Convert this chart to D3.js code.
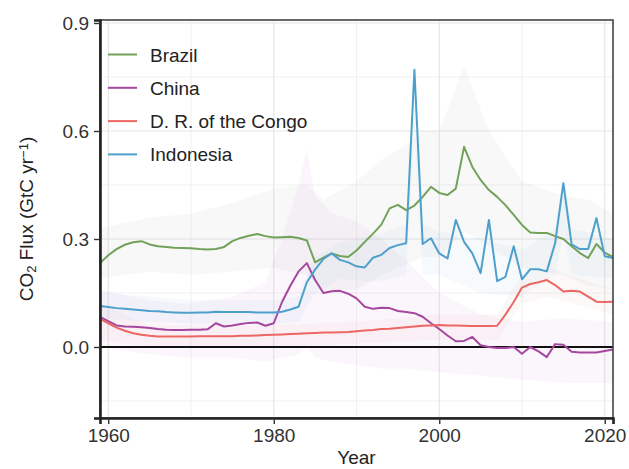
<!DOCTYPE html>
<html>
<head>
<meta charset="utf-8">
<script src="https://cdn.jsdelivr.net/npm/d3@7"></script>
<style>
  body { margin: 0; background: #fff; }
  svg text { font-family: "Liberation Sans", Arial, sans-serif; }
</style>
</head>
<body>
<svg id="chart" width="629" height="469"></svg>
<script>
const years = d3.range(1959, 2022);

const brazil = [0.233,0.255,0.272,0.284,0.291,0.294,0.285,0.280,0.278,0.276,
0.275,0.274,0.272,0.271,0.272,0.278,0.294,0.303,0.309,0.314,
0.308,0.304,0.305,0.306,0.303,0.296,0.235,0.248,0.260,0.253,
0.250,0.268,0.292,0.315,0.340,0.385,0.395,0.380,0.393,0.417,
0.445,0.428,0.422,0.440,0.556,0.500,0.464,0.436,0.417,0.394,
0.367,0.339,0.318,0.317,0.317,0.308,0.300,0.280,0.261,0.247,
0.286,0.262,0.250];

const china = [0.084,0.072,0.060,0.057,0.056,0.055,0.053,0.050,0.048,0.047,
0.047,0.048,0.048,0.049,0.066,0.057,0.060,0.064,0.067,0.068,
0.059,0.066,0.125,0.170,0.210,0.233,0.186,0.150,0.155,0.156,
0.148,0.135,0.112,0.106,0.109,0.108,0.100,0.097,0.094,0.084,
0.066,0.050,0.032,0.016,0.017,0.028,0.005,0.000,-0.003,-0.003,
0.000,-0.019,0.000,-0.012,-0.028,0.008,0.006,-0.013,-0.015,-0.015,
-0.015,-0.011,-0.007];

const congo = [0.078,0.066,0.054,0.045,0.038,0.034,0.031,0.029,0.029,0.029,
0.029,0.029,0.030,0.030,0.030,0.030,0.030,0.031,0.031,0.032,
0.033,0.034,0.035,0.036,0.037,0.038,0.039,0.040,0.040,0.041,
0.042,0.044,0.046,0.047,0.050,0.051,0.053,0.055,0.057,0.059,
0.060,0.061,0.060,0.060,0.059,0.058,0.058,0.058,0.059,0.090,
0.125,0.165,0.175,0.180,0.186,0.172,0.154,0.156,0.154,0.140,
0.126,0.125,0.126];

const indonesia = [0.114,0.111,0.108,0.106,0.104,0.102,0.100,0.099,0.097,0.096,
0.095,0.095,0.096,0.096,0.098,0.097,0.097,0.097,0.097,0.096,
0.096,0.096,0.098,0.104,0.112,0.180,0.215,0.245,0.260,0.242,
0.235,0.224,0.221,0.248,0.256,0.275,0.283,0.288,0.770,0.286,
0.302,0.260,0.246,0.353,0.292,0.260,0.205,0.353,0.183,0.195,
0.280,0.188,0.216,0.216,0.210,0.288,0.455,0.285,0.272,0.272,
0.358,0.252,0.247];

// uncertainty ranges read at selected years
const brazilBandYears = [1959,1965,1970,1975,1980,1984,1986,1990,1993,1996,1998,2000,2003,2006,2010,2015,2018,2021];
const brazilBandHi    = [0.33,0.36,0.37,0.40,0.44,0.45,0.41,0.46,0.52,0.56,0.60,0.60,0.78,0.60,0.46,0.42,0.41,0.37];
const brazilBandLo    = [0.19,0.21,0.20,0.21,0.22,0.20,0.16,0.16,0.20,0.23,0.25,0.25,0.32,0.28,0.22,0.20,0.17,0.16];

const chinaBandYears = [1959,1965,1970,1975,1979,1981,1983,1984,1985,1987,1990,1993,1996,2000,2005,2010,2015,2021];
const chinaBandHi    = [0.16,0.13,0.12,0.14,0.18,0.30,0.45,0.55,0.42,0.37,0.35,0.30,0.24,0.15,0.09,0.07,0.08,0.07];
const chinaBandLo    = [0.00,-0.02,-0.03,-0.03,-0.04,-0.03,-0.02,0.00,-0.03,-0.04,-0.05,-0.06,-0.06,-0.07,-0.08,-0.09,-0.10,-0.10];

const indoBandYears = [1959,1965,1970,1975,1980,1983,1985,1988,1992,1996,1997,1998,2000,2005,2010,2014,2015,2016,2021];
const indoBandHi    = [0.15,0.14,0.13,0.13,0.13,0.14,0.25,0.29,0.31,0.34,0.78,0.34,0.32,0.30,0.27,0.33,0.48,0.33,0.30];
const indoBandLo    = [0.08,0.07,0.065,0.065,0.065,0.07,0.15,0.19,0.18,0.20,0.60,0.20,0.20,0.15,0.14,0.20,0.32,0.20,0.19];

const congoBandYears = [1959,1965,1980,1990,2000,2007,2010,2013,2021];
const congoBandHi    = [0.12,0.06,0.06,0.07,0.09,0.09,0.20,0.22,0.16];
const congoBandLo    = [0.02,0.00,0.00,0.01,0.02,0.02,0.12,0.14,0.09];

const seriesNames = ["Brazil", "China", "D. R. of the Congo", "Indonesia"];
const xMajor = [1960, 1980, 2000, 2020];
const xMinor = [1970, 1990, 2010];
const yMajor = [0.0, 0.3, 0.6, 0.9];
const yMinor = [-0.15, 0.15, 0.45, 0.75];

const colors = {
  "Brazil": "#72a25a",
  "China": "#a5479f",
  "D. R. of the Congo": "#ec6663",
  "Indonesia": "#4ea0cc"
};
const bandFill = {
  "Brazil": "#a0a0a0",
  "China": "#c890c8",
  "D. R. of the Congo": "#e8a0a0",
  "Indonesia": "#8cc4e0"
};
const bandOpacity = {
  "Brazil": 0.07,
  "China": 0.08,
  "D. R. of the Congo": 0.07,
  "Indonesia": 0.08
};

const series = [
  {name: "Brazil", values: brazil, by: brazilBandYears, hi: brazilBandHi, lo: brazilBandLo},
  {name: "China", values: china, by: chinaBandYears, hi: chinaBandHi, lo: chinaBandLo},
  {name: "D. R. of the Congo", values: congo, by: congoBandYears, hi: congoBandHi, lo: congoBandLo},
  {name: "Indonesia", values: indonesia, by: indoBandYears, hi: indoBandHi, lo: indoBandLo}
];

const L = 100, R = 613, T = 20, B = 418;
const svg = d3.select("#chart");
const x = d3.scaleLinear().domain([1959, 2021]).range([L, R]);
const y = d3.scaleLinear().domain([-0.1972, 0.9083]).range([B, T]);

// grid
const grid = svg.append("g");
grid.selectAll(".xmin").data(xMinor).join("line")
  .attr("x1", d => x(d)).attr("x2", d => x(d)).attr("y1", T).attr("y2", B)
  .attr("stroke", "#f1f1f1").attr("stroke-width", 1);
grid.selectAll(".ymin").data(yMinor).join("line")
  .attr("x1", L).attr("x2", R).attr("y1", d => y(d)).attr("y2", d => y(d))
  .attr("stroke", "#f1f1f1").attr("stroke-width", 1);
grid.selectAll(".xmaj").data(xMajor).join("line")
  .attr("x1", d => x(d)).attr("x2", d => x(d)).attr("y1", T).attr("y2", B)
  .attr("stroke", "#e6e6e6").attr("stroke-width", 1.2);
grid.selectAll(".ymaj").data(yMajor).join("line")
  .attr("x1", L).attr("x2", R).attr("y1", d => y(d)).attr("y2", d => y(d))
  .attr("stroke", "#e6e6e6").attr("stroke-width", 1.2);

// bands
const area = d3.area().x(d => x(d.yr)).y0(d => y(d.lo)).y1(d => y(d.hi));
series.forEach(s => {
  const pts = s.by.map((yr, i) => ({yr, lo: s.lo[i], hi: s.hi[i]}));
  svg.append("path").datum(pts)
    .attr("d", area)
    .attr("fill", bandFill[s.name])
    .attr("fill-opacity", bandOpacity[s.name]);
});

// zero line
svg.append("line").attr("x1", L).attr("x2", R).attr("y1", y(0)).attr("y2", y(0))
  .attr("stroke", "#111").attr("stroke-width", 2);

// lines
const line = d3.line().x((d, i) => x(years[i])).y(d => y(d));
series.forEach(s => {
  svg.append("path").datum(s.values)
    .attr("d", line)
    .attr("fill", "none")
    .attr("stroke", colors[s.name])
    .attr("stroke-width", 2)
    .attr("stroke-linejoin", "round");
});

// frame
svg.append("rect").attr("x", L).attr("y", T).attr("width", R - L).attr("height", B - T)
  .attr("fill", "none").attr("stroke", "#444").attr("stroke-width", 1.6);

// axes
const yAxis = d3.axisLeft(y).tickValues(yMajor).tickFormat(d3.format(".1f")).tickSize(6).tickPadding(5);
const gy = svg.append("g").attr("transform", `translate(${L},0)`).call(yAxis);
const xAxis = d3.axisBottom(x).tickValues(xMajor).tickFormat(d3.format("d")).tickSize(6).tickPadding(5);
const gx = svg.append("g").attr("transform", `translate(0,${B})`).call(xAxis);
[gy, gx].forEach(g => {
  g.select(".domain").attr("stroke", "#222").attr("stroke-width", 2.6);
  g.selectAll(".tick line").attr("stroke", "#333").attr("stroke-width", 1.4);
  g.selectAll(".tick text").attr("fill", "#333").style("font-size", "19px")
    .style("font-family", "'Liberation Sans', Arial, sans-serif");
});

// titles
svg.append("text").attr("x", (L + R) / 2).attr("y", 464)
  .attr("text-anchor", "middle").attr("fill", "#222").style("font-size", "19px").text("Year");

const yt = svg.append("text")
  .attr("transform", `translate(33,${(T + B) / 2}) rotate(-90)`)
  .attr("text-anchor", "middle").attr("fill", "#222").style("font-size", "19px");
yt.append("tspan").text("CO");
yt.append("tspan").attr("baseline-shift", "-25%").style("font-size", "13px").text("2");
yt.append("tspan").text(" Flux (GtC yr");
yt.append("tspan").attr("baseline-shift", "40%").style("font-size", "13px").text("\u22121");
yt.append("tspan").text(")");

// legend
const lg = svg.append("g");
seriesNames.forEach((n, i) => {
  const cy = 54.5 + i * 33.3;
  lg.append("line").attr("x1", 108).attr("x2", 137).attr("y1", cy).attr("y2", cy)
    .attr("stroke", colors[n]).attr("stroke-width", 2);
  lg.append("text").attr("x", 150).attr("y", cy + 7).attr("fill", "#222")
    .style("font-size", "19px").text(n);
});
</script>
</body>
</html>
